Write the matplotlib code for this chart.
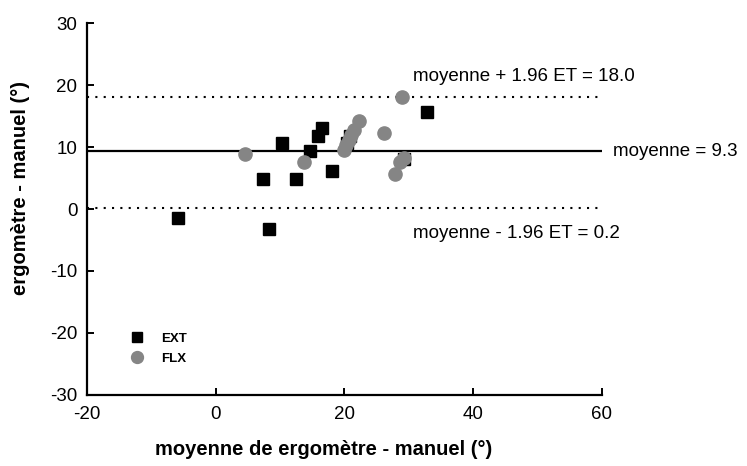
import matplotlib
matplotlib.use('Agg')
from matplotlib import pyplot as plt

plt.rcParams['font.family'] = ['Liberation Sans', 'DejaVu Sans']
plt.rcParams['axes.unicode_minus'] = False

# EXT (squares) : moyenne vs difference
ext_x = [-5.8, 8.35, 7.4, 12.5, 18.1, 10.3, 14.7, 15.9, 16.5, 32.8, 20.8, 20.4, 29.3]
ext_y = [-1.4, -3.3, 4.8, 4.9, 6.2, 10.6, 9.4, 11.7, 13.0, 15.6, 11.7, 10.6, 8.0]

# FLX (circles)
flx_x = [4.5, 13.7, 19.9, 20.3, 20.7, 21.1, 21.5, 22.2, 26.1, 28.9, 29.2, 28.7, 27.8]
flx_y = [8.9, 7.6, 9.5, 10.3, 11.2, 12.0, 12.8, 14.2, 12.2, 18.0, 8.3, 7.6, 5.6]

mean_diff = 9.3
upper = 18.0
lower = 0.2

fig = plt.figure(figsize=(7.47, 4.66), dpi=100)
ax = fig.add_axes([0.1165, 0.1524, 0.689, 0.7982])

ax.plot(ext_x, ext_y, 's', color='black', markersize=8, label='EXT', zorder=3)
ax.plot(flx_x, flx_y, 'o', color='#858585', markersize=9.5, label='FLX', zorder=4)

ax.axhline(mean_diff, color='black', lw=1.6, zorder=2)
ax.axhline(upper, color='black', lw=1.5, linestyle=(0, (1, 3)), zorder=2)
ax.axhline(lower, color='black', lw=1.5, linestyle=(0, (1, 3)), zorder=2)

ax.text(30.7, 21.3, 'moyenne + 1.96 ET = %.1f' % upper, fontsize=13.5, va='center', ha='left')
ax.text(61.8, mean_diff, 'moyenne = %.1f' % mean_diff, fontsize=13.5, va='center', ha='left', clip_on=False)
ax.text(30.7, -4.0, 'moyenne - 1.96 ET = %.1f' % lower, fontsize=13.5, va='center', ha='left')

ax.set_xlim(-20, 60)
ax.set_ylim(-30, 30)
ax.set_xticks([-20, 0, 20, 40, 60])
ax.set_yticks([-30, -20, -10, 0, 10, 20, 30])

for s in ['top', 'right']:
    ax.spines[s].set_visible(False)
for s in ['left', 'bottom']:
    ax.spines[s].set_linewidth(1.6)
ax.tick_params(direction='in', length=5, width=1.4, labelsize=13.5)
ax.tick_params(axis='x', pad=8)
ax.tick_params(axis='y', pad=7)

ax.set_xlabel('moyenne de ergomètre - manuel (°)', fontsize=14.5, fontweight='bold')
ax.set_ylabel('ergomètre - manuel (°)', fontsize=14.5, fontweight='bold')
ax.xaxis.set_label_coords(0.46, -0.12)
ax.yaxis.set_label_coords(-0.11, 0.556)

leg = ax.legend(loc='lower left', bbox_to_anchor=(0.062, 0.05), frameon=False,
                prop={'size': 9.5, 'weight': 'bold'}, markerscale=0.9,
                handlelength=1.0, handletextpad=1.3, labelspacing=0.55)

fig.savefig('out.png', dpi=100)
